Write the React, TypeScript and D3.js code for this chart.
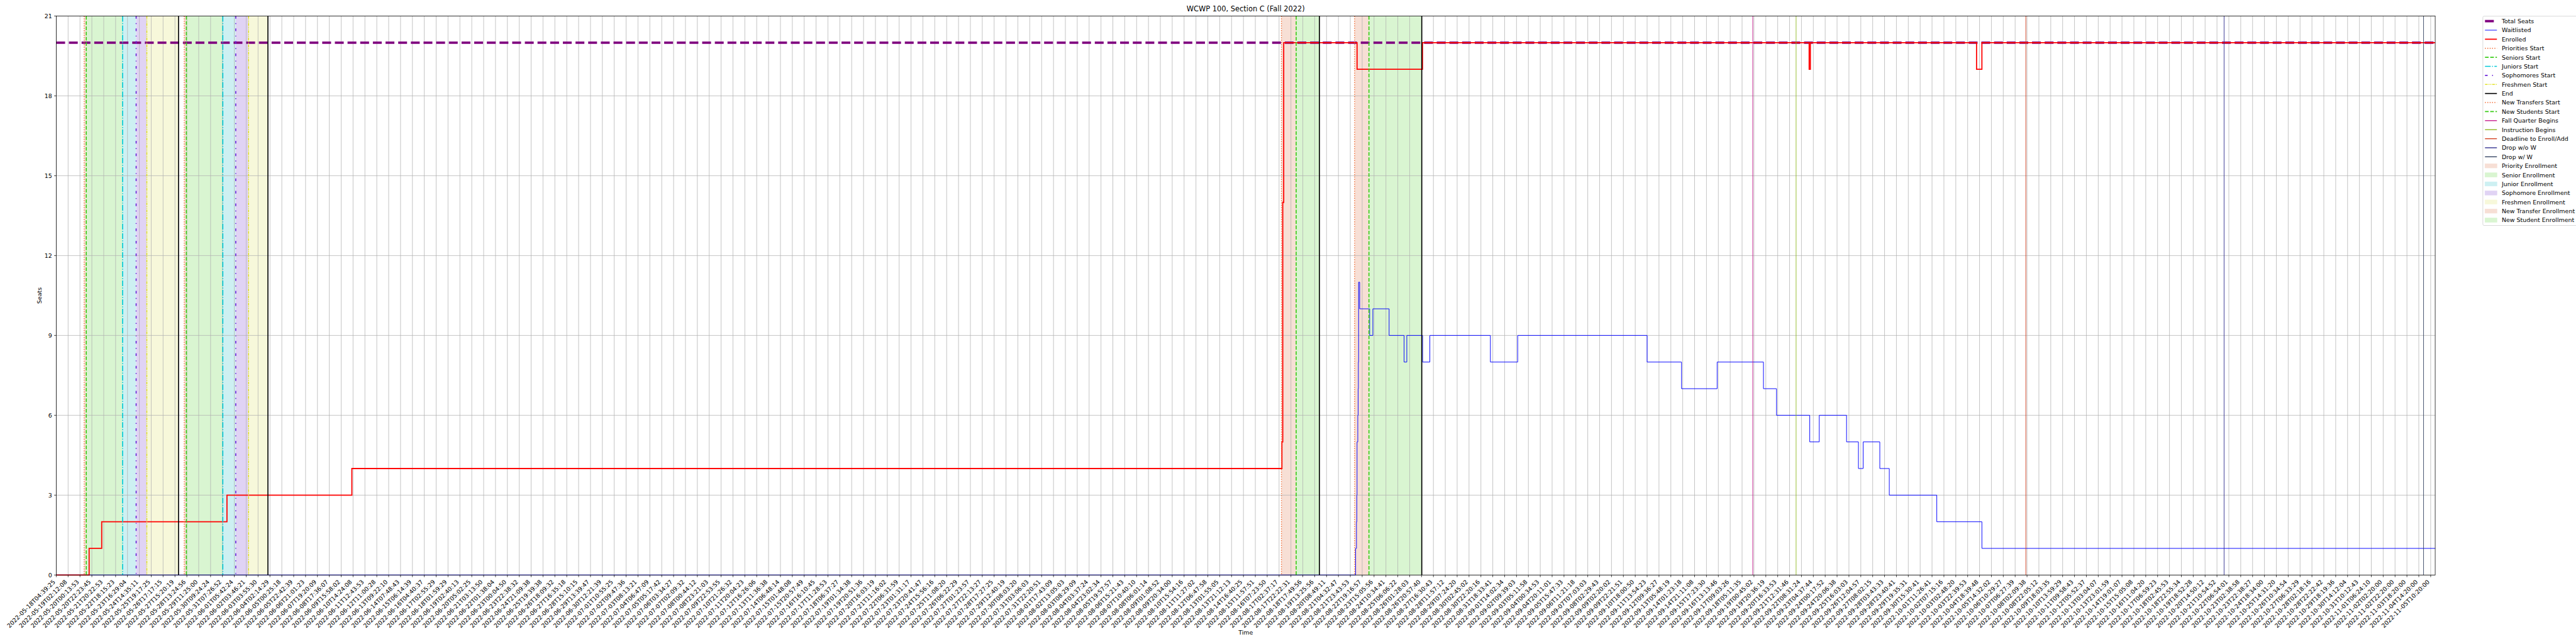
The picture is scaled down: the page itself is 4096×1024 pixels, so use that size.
import React from "react";
import * as d3 from "d3";

// reference is 6000x1500, window is 4096x1024
const S = 4096 / 6000;

// x positions are in tick-label units (tick i = tickLabels[i])
const tickLabels = [
  "2022-05-18T04:39:25", "2022-05-19T02:12:08", "2022-05-20T00:13:53", "2022-05-20T22:23:45",
  "2022-05-21T20:22:53", "2022-05-22T18:15:23", "2022-05-23T16:29:04", "2022-05-24T14:35:11",
  "2022-05-25T19:17:25", "2022-05-26T17:17:15", "2022-05-27T15:20:19", "2022-05-28T13:24:56",
  "2022-05-29T11:25:00", "2022-05-30T09:24:24", "2022-05-31T07:26:52", "2022-06-01T05:42:24",
  "2022-06-02T03:46:21", "2022-06-03T03:55:30", "2022-06-04T02:14:29", "2022-06-05T00:25:18",
  "2022-06-05T22:42:39", "2022-06-06T21:01:23", "2022-06-07T19:20:09", "2022-06-08T17:36:07",
  "2022-06-09T15:58:02", "2022-06-10T14:24:08", "2022-06-11T12:43:53", "2022-06-12T11:00:28",
  "2022-06-13T09:22:10", "2022-06-14T07:48:43", "2022-06-15T06:14:39", "2022-06-16T04:40:37",
  "2022-06-17T02:55:29", "2022-06-18T01:59:29", "2022-06-19T02:40:13", "2022-06-20T05:02:25",
  "2022-06-21T03:13:50", "2022-06-22T01:38:04", "2022-06-23T00:04:50", "2022-06-23T22:38:32",
  "2022-06-24T21:09:38", "2022-06-25T19:39:38", "2022-06-26T18:09:32", "2022-06-27T16:35:18",
  "2022-06-28T15:10:15", "2022-06-29T13:39:47", "2022-06-30T12:21:39", "2022-07-01T10:55:25",
  "2022-07-02T09:47:36", "2022-07-03T08:13:21", "2022-07-04T06:47:09", "2022-07-05T05:17:42",
  "2022-07-06T03:34:27", "2022-07-07T02:09:32", "2022-07-08T00:44:12", "2022-07-08T23:21:03",
  "2022-07-09T22:53:55", "2022-07-10T21:26:32", "2022-07-11T20:04:23", "2022-07-12T16:26:06",
  "2022-07-13T11:36:38", "2022-07-14T06:48:14", "2022-07-15T01:48:08", "2022-07-15T20:57:49",
  "2022-07-16T16:10:45", "2022-07-17T11:28:53", "2022-07-18T06:37:27", "2022-07-19T01:34:38",
  "2022-07-19T20:51:36", "2022-07-20T16:03:19", "2022-07-21T11:16:02", "2022-07-22T06:31:59",
  "2022-07-23T01:31:17", "2022-07-23T20:41:47", "2022-07-24T15:56:16", "2022-07-25T11:08:20",
  "2022-07-26T06:22:29", "2022-07-27T01:23:57", "2022-07-27T22:13:27", "2022-07-28T17:27:25",
  "2022-07-29T12:40:19", "2022-07-30T08:03:20", "2022-07-31T03:06:03", "2022-07-31T22:20:51",
  "2022-08-01T17:43:09", "2022-08-02T13:05:03", "2022-08-03T08:29:09", "2022-08-04T03:37:24",
  "2022-08-04T23:02:34", "2022-08-05T19:57:57", "2022-08-06T15:21:43", "2022-08-07T10:40:10",
  "2022-08-08T06:01:14", "2022-08-09T01:08:52", "2022-08-09T20:34:00", "2022-08-10T15:54:16",
  "2022-08-11T11:27:02", "2022-08-12T06:47:58", "2022-08-13T01:55:05", "2022-08-13T21:12:13",
  "2022-08-14T16:40:25", "2022-08-15T11:57:51", "2022-08-16T07:23:50", "2022-08-17T02:37:17",
  "2022-08-17T22:22:31", "2022-08-18T17:49:56", "2022-08-19T13:25:56", "2022-08-20T08:49:11",
  "2022-08-21T04:32:47", "2022-08-21T23:43:53", "2022-08-22T19:16:57", "2022-08-23T15:05:56",
  "2022-08-24T10:34:41", "2022-08-25T06:06:22", "2022-08-26T01:28:03", "2022-08-26T20:57:40",
  "2022-08-27T16:30:43", "2022-08-28T11:57:12", "2022-08-29T07:24:20", "2022-08-30T02:45:02",
  "2022-08-30T22:20:16", "2022-08-31T18:33:41", "2022-09-01T14:02:34", "2022-09-02T09:39:03",
  "2022-09-03T05:11:58", "2022-09-04T00:34:53", "2022-09-04T20:11:01", "2022-09-05T15:47:33",
  "2022-09-06T11:21:18", "2022-09-07T07:03:03", "2022-09-08T02:29:43", "2022-09-09T02:20:02",
  "2022-09-09T22:21:51", "2022-09-10T18:00:50", "2022-09-11T13:54:23", "2022-09-12T09:36:27",
  "2022-09-13T05:48:19", "2022-09-14T01:23:18", "2022-09-14T21:11:08", "2022-09-15T17:23:30",
  "2022-09-16T13:13:46", "2022-09-17T09:03:26", "2022-09-18T05:11:35", "2022-09-19T00:45:02",
  "2022-09-19T20:36:19", "2022-09-20T16:33:53", "2022-09-21T12:31:46", "2022-09-22T08:31:24",
  "2022-09-23T04:37:44", "2022-09-24T00:17:52", "2022-09-24T20:06:38", "2022-09-25T16:03:03",
  "2022-09-26T12:04:57", "2022-09-27T08:02:15", "2022-09-28T03:43:33", "2022-09-28T23:40:41",
  "2022-09-29T19:35:31", "2022-09-30T15:30:41", "2022-10-01T11:26:41", "2022-10-02T07:15:16",
  "2022-10-03T02:48:20", "2022-10-03T22:39:53", "2022-10-04T18:39:48", "2022-10-05T14:32:02",
  "2022-10-06T10:29:27", "2022-10-07T06:27:39", "2022-10-08T02:09:38", "2022-10-08T22:05:12",
  "2022-10-09T18:03:35", "2022-10-10T13:59:29", "2022-10-11T09:58:43", "2022-10-12T05:52:37",
  "2022-10-13T03:04:07", "2022-10-13T23:01:59", "2022-10-14T19:01:07", "2022-10-15T15:05:08",
  "2022-10-16T11:04:20", "2022-10-17T06:59:23", "2022-10-18T02:45:53", "2022-10-18T22:55:34",
  "2022-10-19T18:52:28", "2022-10-20T14:50:12", "2022-10-21T10:54:52", "2022-10-22T06:54:01",
  "2022-10-23T02:38:58", "2022-10-23T22:38:27", "2022-10-24T18:34:00", "2022-10-25T14:31:20",
  "2022-10-26T10:34:54", "2022-10-27T06:33:29", "2022-10-28T02:18:16", "2022-10-28T22:22:42",
  "2022-10-29T18:19:36", "2022-10-30T14:12:04", "2022-10-31T10:12:43", "2022-11-01T06:24:10",
  "2022-11-02T02:20:00", "2022-11-02T22:20:00", "2022-11-03T18:20:00", "2022-11-04T14:20:00",
  "2022-11-05T10:20:00",
];
const lastPos = 200.38;
const yTicks = [0, 3, 6, 9, 12, 15, 18, 21];

const totalSeats = 20;

// step series: position where the value changes, and the new value
const enrolledPos = [0, 2.77, 3.83, 14.38, 24.9, 103.24, 103.31, 103.39, 109.57, 115.08, 147.65, 147.75, 161.75, 162.2];
const enrolledVal = [0, 1, 2, 3, 4, 5, 14, 20, 19, 20, 19, 20, 19, 20];

const waitPos = [0, 109.45, 109.52, 109.55, 109.57, 109.63, 109.66, 109.68, 109.7, 109.79, 110.63, 110.9,
  112.27, 113.53, 113.76, 115.09, 115.7, 120.8, 123.1, 134.0, 136.9, 139.9, 143.8, 144.9, 147.7, 148.5,
  150.8, 151.8, 152.2, 153.6, 154.4, 158.4, 162.2];
const waitVal = [0, 1, 2, 3, 5, 6, 7, 8, 11, 10, 9, 10, 9, 8, 9, 8, 9, 8, 9, 8, 7, 8, 7, 6, 5, 6, 5, 4, 5,
  4, 3, 2, 1];

// event lines
const prioritiesStart = [2.35, 10.78];
const seniorsStart = [2.53, 10.96];
const juniorsStart = [5.59, 14.03];
const sophomoresStart = [6.73, 15.12];
const freshmenStart = [7.63, 16.2];
const endPos = [10.3, 17.83, 106.4, 115.02];
const newTransfersStart = [103.2, 109.36];
const newStudentsStart = [104.44, 110.57];
const fallQuarterBegins = [142.9];
const instructionBegins = [146.55];
const deadlineAdd = [165.9];
const dropNoW = [182.6];
const dropW = [199.4];

// shaded windows [start, end]
const priorityEnroll = [[2.35, 2.53], [10.78, 10.96]];
const seniorEnroll = [[2.53, 5.59], [10.96, 14.03]];
const juniorEnroll = [[5.59, 6.73], [14.03, 15.12]];
const sophomoreEnroll = [[6.73, 7.63], [15.12, 16.2]];
const freshmenEnroll = [[7.63, 10.3], [16.2, 17.83]];
const newTransferEnroll = [[103.2, 104.44], [109.36, 110.57]];
const newStudentEnroll = [[104.44, 106.4], [110.57, 115.02]];

const eventLines = [
  { name: "Priorities Start", pos: prioritiesStart, color: "#f26a32", w: 2, dash: "2.1,3.4" },
  { name: "Seniors Start", pos: seniorsStart, color: "#3acc18", w: 2.4, dash: "8.5,3.7" },
  { name: "Juniors Start", pos: juniorsStart, color: "#00c9d6", w: 2.4, dash: "13.3,3.3,2.1,3.3" },
  { name: "Sophomores Start", pos: sophomoresStart, color: "#6a22d8", w: 2.4, dash: "6.2,10.4,2.1,10.4" },
  { name: "Freshmen Start", pos: freshmenStart, color: "#e2e228", w: 2.2, dash: "6.2,2.1,2.1,2.1,2.1,2.1" },
  { name: "End", pos: endPos, color: "#000000", w: 2.4, dash: null },
  { name: "New Transfers Start", pos: newTransfersStart, color: "#f26a32", w: 2, dash: "2.1,3.4" },
  { name: "New Students Start", pos: newStudentsStart, color: "#3acc18", w: 2.4, dash: "8.5,3.7" },
  { name: "Fall Quarter Begins", pos: fallQuarterBegins, color: "#c4168a", w: 1.3, dash: null },
  { name: "Instruction Begins", pos: instructionBegins, color: "#8cb61c", w: 1.3, dash: null },
  { name: "Deadline to Enroll/Add", pos: deadlineAdd, color: "#d33c1c", w: 1.3, dash: null },
  { name: "Drop w/o W", pos: dropNoW, color: "#2c2a8c", w: 1.3, dash: null },
  { name: "Drop w/ W", pos: dropW, color: "#2d3d5c", w: 1.3, dash: null },
];

const spans = [
  { name: "Priority Enrollment", ranges: priorityEnroll, color: "#f7dfd5" },
  { name: "Senior Enrollment", ranges: seniorEnroll, color: "#d9f5d1" },
  { name: "Junior Enrollment", ranges: juniorEnroll, color: "#cdf0f2" },
  { name: "Sophomore Enrollment", ranges: sophomoreEnroll, color: "#e0d3f4" },
  { name: "Freshmen Enrollment", ranges: freshmenEnroll, color: "#f7f8da" },
  { name: "New Transfer Enrollment", ranges: newTransferEnroll, color: "#f7dfd5" },
  { name: "New Student Enrollment", ranges: newStudentEnroll, color: "#d9f5d1" },
];

const FONT = "DejaVu Sans";

export default function App() {
  const left = 131, right = 5672, top = 37.3, bottom = 1339.3;
  const x = d3.scaleLinear().domain([0, lastPos]).range([left, right]);
  const y = d3.scaleLinear().domain([0, 21]).range([bottom, top]);

  const stepLine = d3
    .line<[number, number]>()
    .x(d => x(d[0]))
    .y(d => y(d[1]))
    .curve(d3.curveStepAfter);

  const series = (pos: number[], val: number[]) => {
    const pts: [number, number][] = pos.map((p, i) => [p, val[i]]);
    pts.push([lastPos, val[val.length - 1]]);
    return stepLine(pts) || "";
  };

  const legendItems = [
    { name: "Total Seats", kind: "line", color: "#800080", w: 5.6, dash: "20.6,8.9" },
    { name: "Waitlisted", kind: "line", color: "#0000ff", w: 1.4, dash: null },
    { name: "Enrolled", kind: "line", color: "#ff0000", w: 2.6, dash: null },
    ...eventLines.map(e => ({ ...e, kind: "line", w: Math.max(e.w, 2) })),
    ...spans.map(s => ({ ...s, kind: "patch", w: 1, dash: null })),
  ];

  const lx = 5783, ly = 37.7, lstep = 21.07;

  return (
    <svg
      width={4096}
      height={1024}
      style={{ position: "absolute", left: 0, top: 0, display: "block", background: "#fff" }}
      fontFamily={FONT}
    >
      <g transform={`scale(${S})`}>
        <rect x={0} y={0} width={6000} height={1500} fill="#fff" />

        {/* enrollment windows */}
        {spans.map(s =>
          s.ranges.map((r, i) => (
            <rect key={s.name + i} x={x(r[0])} y={top} width={x(r[1]) - x(r[0])} height={bottom - top} fill={s.color} />
          ))
        )}

        {/* grid */}
        {tickLabels.map((_, i) => (
          <line key={"gx" + i} x1={x(i)} x2={x(i)} y1={top} y2={bottom} stroke="#b0b0b0" strokeWidth={1.1} />
        ))}
        {yTicks.map(t => (
          <line key={"gy" + t} x1={left} x2={right} y1={y(t)} y2={y(t)} stroke="#b0b0b0" strokeWidth={1.1} />
        ))}

        {/* data */}
        <line x1={left} x2={right} y1={y(totalSeats)} y2={y(totalSeats)} stroke="#800080" strokeWidth={5.6} strokeDasharray="20.6,8.9" />
        <path d={series(waitPos, waitVal)} fill="none" stroke="#0000ff" strokeWidth={1.4} />
        <path d={series(enrolledPos, enrolledVal)} fill="none" stroke="#ff0000" strokeWidth={2.6} />

        {/* events */}
        {eventLines.map(e =>
          e.pos.map((p, i) => (
            <line key={e.name + i} x1={x(p)} x2={x(p)} y1={top} y2={bottom} stroke={e.color} strokeWidth={e.w}
              strokeDasharray={e.dash || undefined} />
          ))
        )}

        {/* frame */}
        <rect x={left} y={top} width={right - left} height={bottom - top} fill="none" stroke="#000" strokeWidth={1.1} />

        {/* x ticks */}
        {tickLabels.map((lab, i) => (
          <g key={"tx" + i}>
            <line x1={x(i)} x2={x(i)} y1={bottom} y2={bottom + 4.9} stroke="#000" strokeWidth={1.1} />
            <text x={x(i) - 1.5} y={bottom + 17} fontSize={13.9} textAnchor="end"
              transform={`rotate(-45 ${x(i) - 1.5} ${bottom + 17})`}>{lab}</text>
          </g>
        ))}

        {/* y ticks */}
        {yTicks.map(t => (
          <g key={"ty" + t}>
            <line x1={left - 4.9} x2={left} y1={y(t)} y2={y(t)} stroke="#000" strokeWidth={1.1} />
            <text x={left - 9.8} y={y(t)} dy="0.36em" fontSize={13.9} textAnchor="end">{t}</text>
          </g>
        ))}

        {/* labels */}
        <text x={(left + right) / 2} y={27} fontSize={16.7} textAnchor="middle">WCWP 100, Section C (Fall 2022)</text>
        <text x={(left + right) / 2} y={1478} fontSize={13.9} textAnchor="middle">Time</text>
        <text transform={`translate(96 ${(top + bottom) / 2}) rotate(-90)`} fontSize={13.9} textAnchor="middle">Seats</text>

        {/* legend */}
        <rect x={lx} y={ly} width={260} height={487.5} rx={3} fill="#fff" fillOpacity={0.8} stroke="#cccccc" strokeWidth={1.1} />
        {legendItems.map((it, i) => {
          const cy = 49.2 + i * lstep;
          return (
            <g key={"lg" + i}>
              {it.kind === "line" ? (
                <line x1={5788} x2={5815.8} y1={cy} y2={cy} stroke={it.color} strokeWidth={it.w}
                  strokeDasharray={it.dash || undefined} />
              ) : (
                <rect x={5788} y={cy - 4.9} width={27.8} height={9.7} fill={it.color} stroke={it.color} strokeWidth={1} />
              )}
              <text x={5827} y={cy} dy="0.36em" fontSize={13.9}>{it.name}</text>
            </g>
          );
        })}
      </g>
    </svg>
  );
}
